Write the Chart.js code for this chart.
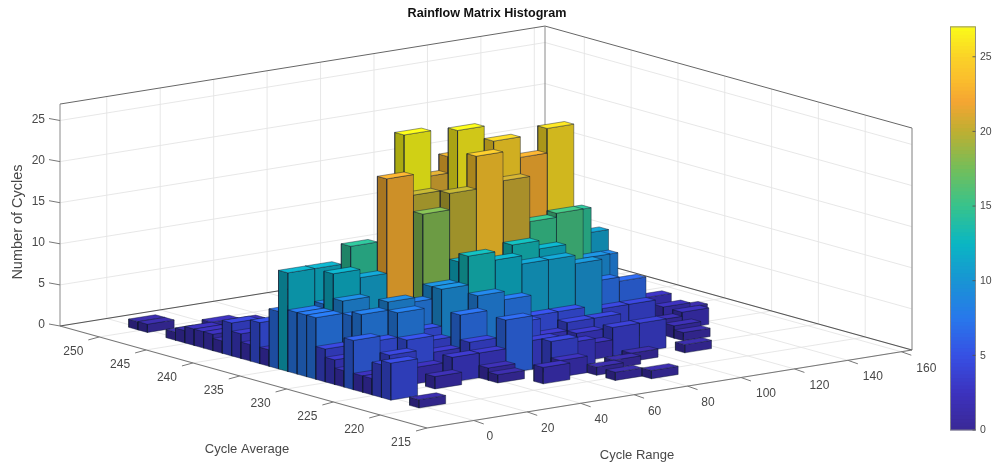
<!DOCTYPE html>
<html><head><meta charset="utf-8">
<style>html,body{margin:0;padding:0;background:#fff}#w{position:relative;width:992px;height:467px}canvas{display:block;filter:blur(.4px)}</style>
<script src="https://cdn.jsdelivr.net/npm/chart.js@4"></script></head>
<body><div id="w"><canvas id="c" width="992" height="467"></canvas></div>
<script>
// ---- data ----
const titleText = "Rainflow Matrix Histogram";
const rangeTicks = [0,20,40,60,80,100,120,140,160];
const avgTicks = [215,220,225,230,235,240,245,250];
const countTicks = [0,5,10,15,20,25];
const colorbarTicks = [0,5,10,15,20,25];
const rangeCenters = [2.7,12.7,22.7,32.7,42.7,52.7,62.7,72.7,82.7,92.7,102.7,112.7,122.7,132.7,142.7];
const avgR0=[250.7,249.7,246.7,245.7,244.7,243.7,242.7,241.7,240.7,239.7,238.7,237.7,236.7,235.7,234.7,233.7,232.7,231.7,230.7,229.7,228.7,227.7,226.7,225.7,224.7,223.7,220.7];
const cntR0=[1,1,1,1.5,2,2,2,1.5,4,3,2,5,2,7,12,7.5,7.5,7.5,4,3,2,6,2,2,4,4.5,1];
const avgR1=[245.7,243.7,241.7,234.7,233.7,232.7,231.7,230.7,229.7,228.7,226.7];
const cntR1=[2,2,2.5,12,8,12,9,7.5,8,5,4];
const avgR2=[245.7,233.7,232.7,229.7,228.7,227.7,226.7,224.7];
const cntR2=[1.5,14.5,11,9,8,5,2,1.5];
const avgR3=[232.7,230.7,229.7,228.7,227.7,225.7];
const cntR3=[22.5,8,5,4,3,3];
const avgR4=[233.7,232.7,231.7,230.7,229.7,227.7,226.7,225.7,224.7,223.7];
const cntR4=[27,20,18,9.5,9.5,7,4,3,1.5,1];
const avgR5=[234.7,231.7,230.7,229.7,228.7,225.7,221.7];
const cntR5=[21,20,12,13,8.5,6.5,2];
const avgR6=[234.7,233.7,231.7,229.7,228.7,227.7,225.7,223.7,222.7];
const cntR6=[23,26.5,24,12,7.5,5,3.5,4,2];
const avgR7=[232.7,231.7,230.7,229.7,228.7,227.7,224.7,221.7,219.7];
const cntR7=[25,20.5,13,11,5,3,3,1,1];
const avgR8=[232.7,231.7,230.7,229.7,228.7,227.7,226.7,225.7,222.7,218.7];
const cntR8=[22.5,15,12,11,5,4,3,2,1,1];
const avgR9=[232.7,231.7,229.7,227.7,225.7,223.7];
const cntR9=[25.5,15.5,10,4,3.5,1];
const avgR10=[233.7,231.7,230.7,229.7,225.7];
const cntR10=[14.5,9.5,7,4,3.5];
const avgR11=[234.7,233.7,230.7,229.7,223.7];
const cntR11=[11,8.5,6.5,4,1];
const avgR12=[229.7,227.7,226.7];
const cntR12=[1.5,1.5,1];
const avgR13=[233.7,231.7,229.7];
const cntR13=[2.5,2,2];
const avgR14=[232.7];
const cntR14=[1];
const avgByRange=[avgR0,avgR1,avgR2,avgR3,avgR4,avgR5,avgR6,avgR7,avgR8,avgR9,avgR10,avgR11,avgR12,avgR13,avgR14];
const cntByRange=[cntR0,cntR1,cntR2,cntR3,cntR4,cntR5,cntR6,cntR7,cntR8,cntR9,cntR10,cntR11,cntR12,cntR13,cntR14];

// ---- view (orthographic camera) ----
const rLim=[-17.5,164], aLim=[215,254.2], zMax=27;
const view={ox:427,oy:428,rx:485/181.5,ry:-78/181.5,ax:-367/39.2,ay:-102/39.2,zy:-8.22};
const P=(r,a,z)=>({x:view.ox+(r-rLim[0])*view.rx+(a-aLim[0])*view.ax,
                   y:view.oy+(r-rLim[0])*view.ry+(a-aLim[0])*view.ay+z*view.zy});
const halfR=5, halfA=.5;

// colours
const stops=[[0,[58,40,150]],[2.5,[60,50,190]],[5,[55,80,228]],[7.5,[40,120,235]],[10,[25,148,212]],[12.5,[10,182,195]],
 [15,[55,195,140]],[17.5,[115,190,90]],[20,[190,175,50]],[22,[245,165,50]],[23.5,[250,190,45]],[25,[250,210,40]],[27,[250,250,25]]];
function cmap(v){for(let k=1;k<stops.length;k++){if(v<=stops[k][0]){const[a,ca]=stops[k-1],[b,cb]=stops[k],t=(v-a)/(b-a);
  return ca.map((c,n)=>c+(cb[n]-c)*t);}}return stops[stops.length-1][1];}
const rgb=(c,m)=>`rgb(${c.map(q=>Math.min(255,Math.round(q*m))).join(',')})`;

const datasets=[];
const line=(pts,color,width,extra)=>datasets.push(Object.assign({type:'line',data:pts,borderColor:color,borderWidth:width,pointRadius:0,tension:0,fill:false,clip:false,parsing:{xAxisKey:'x',yAxisKey:'y'}},extra||{}));
const seg=(a,b,color,width)=>line([a,b],color,width);
const GRID='#e4e4e4', BOX='#8a8a8a', DARK='#555';

// walls + floor grid
for(const t of rangeTicks){seg(P(t,aLim[0],0),P(t,aLim[1],0),GRID,.9);seg(P(t,aLim[1],0),P(t,aLim[1],zMax),GRID,.9);}
for(const t of avgTicks){seg(P(rLim[0],t,0),P(rLim[1],t,0),GRID,.9);seg(P(rLim[1],t,0),P(rLim[1],t,zMax),GRID,.9);}
for(const t of countTicks){seg(P(rLim[0],aLim[1],t),P(rLim[1],aLim[1],t),GRID,.9);seg(P(rLim[1],aLim[1],t),P(rLim[1],aLim[0],t),GRID,.9);}
// box
seg(P(rLim[0],aLim[1],zMax),P(rLim[1],aLim[1],zMax),'#666',1);
seg(P(rLim[1],aLim[1],zMax),P(rLim[1],aLim[0],zMax),'#666',1);
seg(P(rLim[0],aLim[1],0),P(rLim[0],aLim[1],zMax),BOX,1);
seg(P(rLim[1],aLim[1],0),P(rLim[1],aLim[1],zMax),BOX,1);
seg(P(rLim[1],aLim[0],0),P(rLim[1],aLim[0],zMax),BOX,1);
seg(P(rLim[0],aLim[1],0),P(rLim[1],aLim[1],0),DARK,1.1);
seg(P(rLim[1],aLim[1],0),P(rLim[1],aLim[0],0),DARK,1.1);
// front axes + ticks
seg(P(rLim[0],aLim[0],0),P(rLim[1],aLim[0],0),'#777',1.1);
seg(P(rLim[0],aLim[0],0),P(rLim[0],aLim[1],0),'#777',1.1);
for(const t of rangeTicks){const p=P(t,aLim[0],0);seg(p,{x:p.x+10,y:p.y+3.5},'#777',1);}
for(const t of avgTicks){const p=P(rLim[0],t,0);seg(p,{x:p.x-11,y:p.y+3},'#777',1);}
for(const t of countTicks){const p=P(rLim[0],aLim[1],t);seg(p,{x:p.x-11,y:p.y-2},'#777',1);}

// bars, far ones first
const bars=[];
rangeCenters.forEach((r,i)=>avgByRange[i].forEach((a,k)=>bars.push({r,a,h:cntByRange[i][k]})));
bars.sort((p,q)=>(q.a-p.a)||(q.r-p.r));
const EDGE='rgba(15,25,45,.55)';
for(const b of bars){
  const c=cmap(b.h), r0=b.r-halfR,r1=b.r+halfR,a0=b.a-halfA,a1=b.a+halfA;
  const poly=(pts,m)=>line([...pts,pts[0]],EDGE,.8,{fill:'shape',backgroundColor:rgb(c,m)});
  poly([P(r0,a1,0),P(r0,a0,0),P(r0,a0,b.h),P(r0,a1,b.h)],.68);
  poly([P(r0,a0,0),P(r1,a0,0),P(r1,a0,b.h),P(r0,a0,b.h)],.83);
  poly([P(r0,a0,b.h),P(r1,a0,b.h),P(r1,a1,b.h),P(r0,a1,b.h)],1.06);
}
// Chart.js paints dataset 0 last; keep our back-to-front order
const total=datasets.length;
datasets.forEach((d,n)=>{d.order=total-n+1;});

// colour bar
const cbX=963, cbStep=.25, cbVals=[];
for(let v=0;v<zMax;v+=cbStep)cbVals.push(v);
datasets.push({type:'bar',order:1,yAxisID:'y2',xAxisID:'x',barThickness:25,
  data:cbVals.map(v=>({x:cbX,y:[v,v+cbStep+.03]})),
  backgroundColor:cbVals.map(v=>rgb(cmap(v+cbStep/2),1)),borderWidth:0,clip:false,parsing:{xAxisKey:'x',yAxisKey:'y'}});

const textPlugin={id:'labels',afterDraw(chart){
  const g=chart.ctx,sx=chart.scales.x,sy=chart.scales.y,sc=chart.scales.y2;
  const X=v=>sx.getPixelForValue(v),Y=v=>sy.getPixelForValue(v);
  g.save();g.fillStyle='#484848';g.textBaseline='middle';
  const T=(s,x,y,font,al,col)=>{g.font=font;g.textAlign=al||'center';g.fillStyle=col||'#484848';g.fillText(s,X(x),Y(y));};
  const F='12px "Liberation Sans"';
  for(const t of rangeTicks){const p=P(t,aLim[0],0),n=String(t).length;T(String(t),p.x+16+(n-1)*4.5,p.y+16.5,F);}
  for(const t of avgTicks){const p=P(rLim[0],t,0);T(String(t),p.x-26,p.y+14.5,F);}
  for(const t of countTicks){const p=P(rLim[0],aLim[1],t);T(String(t),p.x-15,p.y-1,F,'right');}
  T('Cycle Average',247,449,'13px "Liberation Sans"');
  T('Cycle Range',637,455,'13px "Liberation Sans"');
  T(titleText,487,14,'bold 12.6px "Liberation Sans"','center','#111');
  g.save();g.translate(X(18),Y(222));g.rotate(-Math.PI/2);g.font='14.5px "Liberation Sans"';g.textAlign='center';g.fillStyle='#484848';g.fillText('Number of Cycles',0,0);g.restore();
  // colour bar frame, ticks and labels
  const l=cbX-12.5,rr=cbX+12.5,top=sc.getPixelForValue(zMax),bot=sc.getPixelForValue(0);
  g.strokeStyle='#8a8a8a';g.lineWidth=.9;g.strokeRect(X(l),top,X(rr)-X(l),bot-top);
  for(const t of colorbarTicks){const yy=sc.getPixelForValue(t);g.beginPath();g.moveTo(X(rr)-3,yy);g.lineTo(X(rr),yy);g.strokeStyle='#555';g.stroke();
    g.font='10.5px "Liberation Sans"';g.textAlign='left';g.fillStyle='#484848';g.fillText(String(t),X(rr)+4.5,yy+.5);}
  g.restore();
}};

new Chart(document.getElementById('c'),{
  type:'line',
  data:{datasets},
  options:{responsive:false,animation:false,events:[],
    layout:{padding:0},
    plugins:{legend:{display:false},tooltip:{enabled:false}},
    scales:{
      x:{type:'linear',min:0,max:992,display:false,offset:false},
      y:{type:'linear',min:0,max:467,reverse:true,display:false},
      y2:{type:'linear',min:(430-467)/14.93,max:430/14.93,display:false}
    }},
  plugins:[textPlugin]
});
</script></body></html>
